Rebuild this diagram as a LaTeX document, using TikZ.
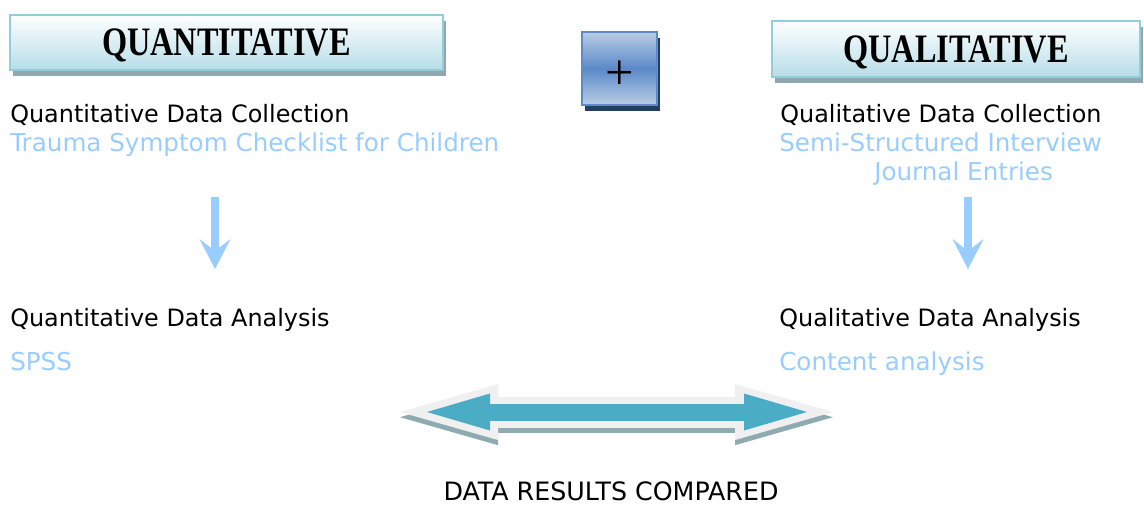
\documentclass[tikz,border=0pt]{standalone}
\usepackage{fontspec}
\setmainfont{DejaVu Sans}
\newfontfamily\hdfont{Liberation Serif}
\usetikzlibrary{positioning}
\usetikzlibrary{arrows.meta}
\usetikzlibrary{shadows}
\definecolor{lightblue}{HTML}{99CCFF}
\definecolor{headborder}{HTML}{92CDDC}
\definecolor{headbottom}{HTML}{B6DDE8}
\definecolor{headshadow}{HTML}{8FA8AE}
\definecolor{plusborder}{HTML}{5B8BC9}
\definecolor{plustop}{HTML}{BACDE5}
\definecolor{plusmid}{HTML}{5A89C8}
\definecolor{plusshadow}{HTML}{243F60}
\definecolor{arrowgray}{HTML}{F0F0F0}
\definecolor{arrowshadow}{HTML}{8FABB2}
\definecolor{arrowteal}{HTML}{4BACC6}
\newcommand{\tallcaps}[1]{\scalebox{1}[1.25]{#1}}
\tikzset{
    txt/.style={
        anchor=base west,
        inner sep=0pt,
        font=\fontsize{17}{20}\selectfont},
    lighttxt/.style={
        txt,
        text=lightblue,
        font=\fontsize{17.5}{20}\selectfont},
    headbox/.style={
        draw=headborder,
        line width=1.5pt,
        top color=white,
        bottom color=headbottom,
        text depth=0pt,
        drop shadow={shadow xshift=0.07cm, shadow yshift=-0.15cm,
            fill=headshadow, opacity=1},
        font=\hdfont\bfseries\fontsize{23}{23}\selectfont},
    plusbox/.style={
        draw=plusborder,
        line width=1.2pt,
        minimum width=1.875cm,
        minimum height=1.825cm,
        top color=plustop,
        bottom color=plustop,
        middle color=plusmid,
        drop shadow={shadow xshift=0.08cm, shadow yshift=-0.14cm,
            fill=plusshadow, opacity=1},
        font=\hdfont\fontsize{36}{36}\selectfont},
    downarrow/.style={
        draw=lightblue,
        line width=0.18cm,
        -{Stealth[length=0.75cm, width=0.78cm, inset=0.3cm, line width=0pt]}},
    bigarrow/.style={
        line width=0.775cm,
        {Triangle[length=2.45cm, width=1.4cm, line width=0pt]}-{Triangle[length=2.45cm, width=1.4cm, line width=0pt]}},
    smallarrow/.style={
        draw=arrowteal,
        line width=0.425cm,
        {Triangle[length=1.575cm, width=0.925cm, line width=0pt]}-{Triangle[length=1.575cm, width=0.925cm, line width=0pt]}}}

\begin{document}
\begin{tikzpicture}
        \useasboundingbox (0,0) rectangle (28.6,12.6);

        \node[headbox, minimum width=10.825cm, minimum height=1.375cm] (quant) at (5.66,11.5375) {\tallcaps{QUANTITATIVE}};
        \node[headbox, minimum width=9.2cm, minimum height=1.4cm] (qual) at (23.9,11.375) {\tallcaps{QUALITATIVE}};
        \node[plusbox] (plus) at (15.4875,10.8875) {\raisebox{-0.17cm}[\height][\depth]{+}};

        \node[txt] (quantcoll) at (0.25,9.55) {Quantitative Data Collection};
        \node[lighttxt] (tscc) at (0.25,8.825) {Trauma Symptom Checklist for Children};
        \node[txt] (quantana) at (0.25,4.4325) {Quantitative Data Analysis};
        \node[lighttxt] (spss) at (0.25,3.3325) {SPSS};

        \node[txt] (qualcoll) at (19.5,9.55) {Qualitative Data Collection};
        \node[lighttxt] (interview) at (19.475,8.825) {Semi-Structured Interview};
        \node[lighttxt] (journal) at (21.85,8.1) {Journal Entries};
        \node[txt] (qualana) at (19.475,4.4325) {Qualitative Data Analysis};
        \node[lighttxt] (content) at (19.475,3.3325) {Content analysis};

        \node[txt, anchor=base, font=\fontsize{18}{20}\selectfont] (compared) at (15.275,0.1) {DATA RESULTS COMPARED};

        \coordinate (quanttop) at (5.375,7.675);
        \coordinate (quantbot) at (5.375,5.875);
        \coordinate (qualtop) at (24.2,7.675);
        \coordinate (qualbot) at (24.2,5.875);
        \coordinate (cmpleft) at (10.0,2.3);
        \coordinate (cmpright) at (20.825,2.3);
        \coordinate (tealleft) at (10.675,2.3);
        \coordinate (tealright) at (20.175,2.3);

        \draw[downarrow] (quanttop) -- (quantbot);
        \draw[downarrow] (qualtop) -- (qualbot);

        \draw[bigarrow, arrowshadow] ([yshift=-0.13cm]cmpleft) -- ([yshift=-0.13cm]cmpright);
        \draw[bigarrow, arrowgray] (cmpleft) -- (cmpright);
        \draw[smallarrow] (tealleft) -- (tealright);
    \end{tikzpicture}
\end{document}
